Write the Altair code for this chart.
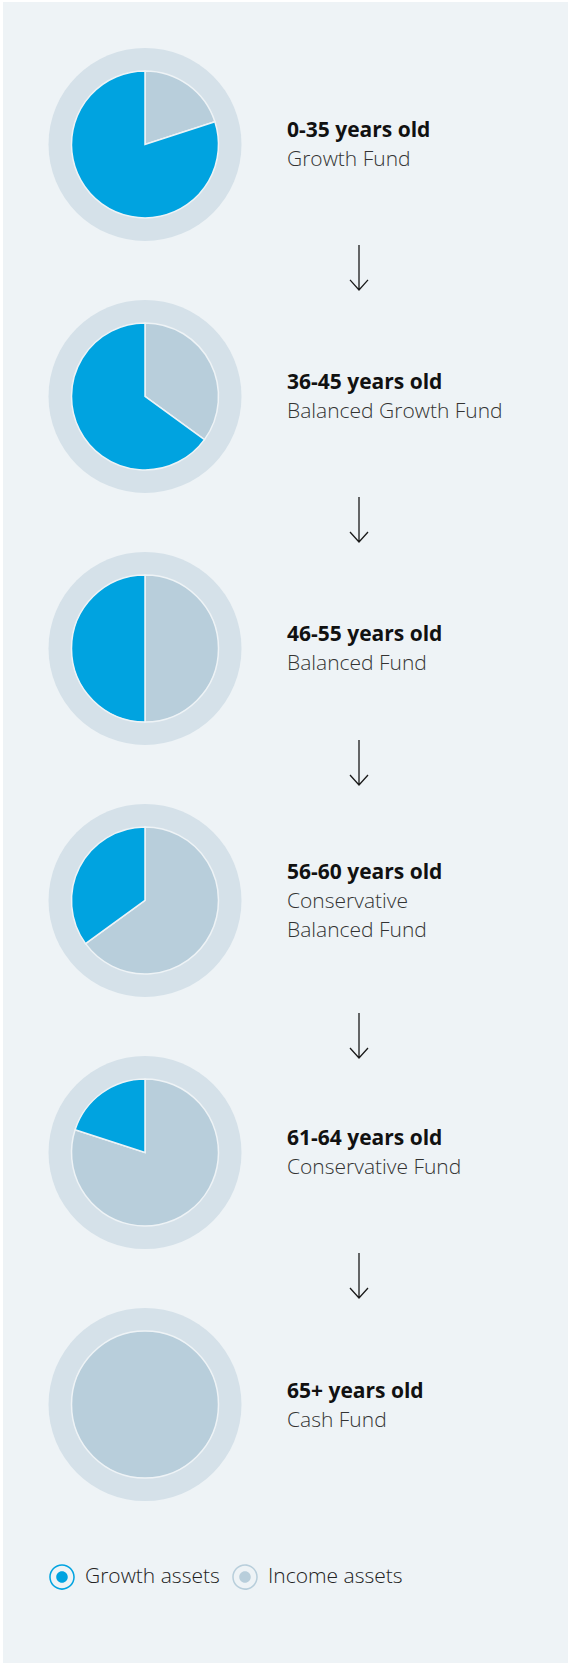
import math
import altair as alt
import pandas as pd

# ---- data ----
stages = ["0-35 years old", "36-45 years old", "46-55 years old",
          "56-60 years old", "61-64 years old", "65+ years old"]
funds = ["Growth Fund", "Balanced Growth Fund", "Balanced Fund",
         "Conservative\nBalanced Fund", "Conservative Fund", "Cash Fund"]
growth_pct = [80, 65, 50, 35, 20, 0]
income_pct = [20, 35, 50, 65, 80, 100]
asset_names = ["Growth assets", "Income assets"]
asset_colors = ["#00a3e0", "#b8cedb"]

# ---- tables built from the arrays ----
rows = []
for i, s in enumerate(stages):
    rows.append({"idx": i, "asset": "Income assets", "order": 0, "value": income_pct[i]})
    rows.append({"idx": i, "asset": "Growth assets", "order": 1, "value": growth_pct[i]})
slices = pd.DataFrame(rows)

nlines = [f.count("\n") + 2 for f in funds]
labels = pd.DataFrame({
    "idx": list(range(len(stages))),
    "n": nlines,
    "bold": [s + "\n" * (n - 1) for s, n in zip(stages, nlines)],
    "light": ["\n" + f for f in funds],
})
arrows = pd.DataFrame({
    "idx": list(range(len(stages) - 1)),
    "n_above": nlines[:-1],
    "n_below": nlines[1:],
})

FONT = "Open Sans"
yscale = alt.Scale(domain=[0, len(stages) - 1], range=[142.4, 1402.5], zero=False, nice=False)
Y = alt.Y("idx:Q", scale=yscale, axis=None, stack=False)

legend_symbol = ("M0,-1A1,1,0,1,1,0,1A1,1,0,1,1,0,-1Z"
                 "M0,-0.88A0.88,0.88,0,1,0,0,0.88A0.88,0.88,0,1,0,0,-0.88Z"
                 "M0,-0.45A0.45,0.45,0,1,1,0,0.45A0.45,0.45,0,1,1,0,-0.45Z")

rings = alt.Chart(labels).mark_circle(
    size=(2 * 96.5) ** 2, color="#d5e1e9", opacity=1
).encode(x=alt.value(142), y=Y)

pies = alt.Chart(slices).transform_filter(
    "datum.value > 0"
).transform_window(
    cum="sum(value)", groupby=["idx"], sort=[alt.SortField("order")]
).transform_calculate(
    start="datum.cum - datum.value"
).mark_arc(radius=73.5, stroke="#eef3f6", strokeWidth=1.5).encode(
    x=alt.value(142),
    y=Y,
    theta=alt.Theta("start:Q", stack=False,
                    scale=alt.Scale(domain=[0, 100], range=[0, 2 * math.pi])),
    theta2="cum:Q",
    color=alt.Color(
        "asset:N",
        scale=alt.Scale(domain=asset_names, range=asset_colors),
        legend=alt.Legend(
            orient="none", legendX=46, legendY=1562, direction="horizontal",
            title=None, symbolType=legend_symbol, symbolSize=655,
            symbolStrokeWidth=0, symbolOpacity=1,
            labelFont=FONT, labelFontSize=21, labelFontWeight=300,
            labelColor="#222222", labelOffset=10, columnPadding=12,
        ),
    ),
)

# arrows: nudged toward the shorter neighbouring text block
arrow_path = "M0,-1L0,1M-0.4,0.556L0,1L0.4,0.556"
arrow_layers = []
for (na, nb), grp in arrows.groupby(["n_above", "n_below"]):
    arrow_layers.append(
        alt.Chart(arrows).transform_filter(
            f"datum.n_above == {na} && datum.n_below == {nb}"
        ).transform_calculate(mid="datum.idx + 0.5").mark_point(
            shape=arrow_path, size=2025, filled=False, stroke="#1a1a1a",
            strokeWidth=1.3, opacity=1,
            yOffset=-3 + 12 * (na - 2) - 9 * (nb - 2),
        ).encode(x=alt.value(356), y=alt.Y("mid:Q", scale=yscale, axis=None))
    )

# text blocks: vertically centred on the pie according to their line count
text_layers = []
for n in sorted(set(nlines)):
    dy = 22 - 14.5 * n
    base = alt.Chart(labels).transform_filter(f"datum.n == {n}")
    text_layers.append(base.mark_text(
        align="left", baseline="alphabetic", lineBreak="\n", lineHeight=29, dy=dy,
        font=FONT, fontSize=21, fontWeight="bold", color="#111111"
    ).encode(x=alt.value(284), y=Y, text="bold:N"))
    text_layers.append(base.mark_text(
        align="left", baseline="alphabetic", lineBreak="\n", lineHeight=29, dy=dy,
        font=FONT, fontSize=21, fontWeight=300, color="#333333"
    ).encode(x=alt.value(284), y=Y, text="light:N"))

chart = alt.layer(rings, pies, *arrow_layers, *text_layers).properties(
    width=565, height=1661,
    padding={"left": 3, "top": 2, "right": 1, "bottom": 0},
    background="white",
    autosize="none",
).configure_view(fill="#eef3f6", strokeWidth=0)

chart.save("out.html", embed_options={"renderer": "svg", "actions": False})
